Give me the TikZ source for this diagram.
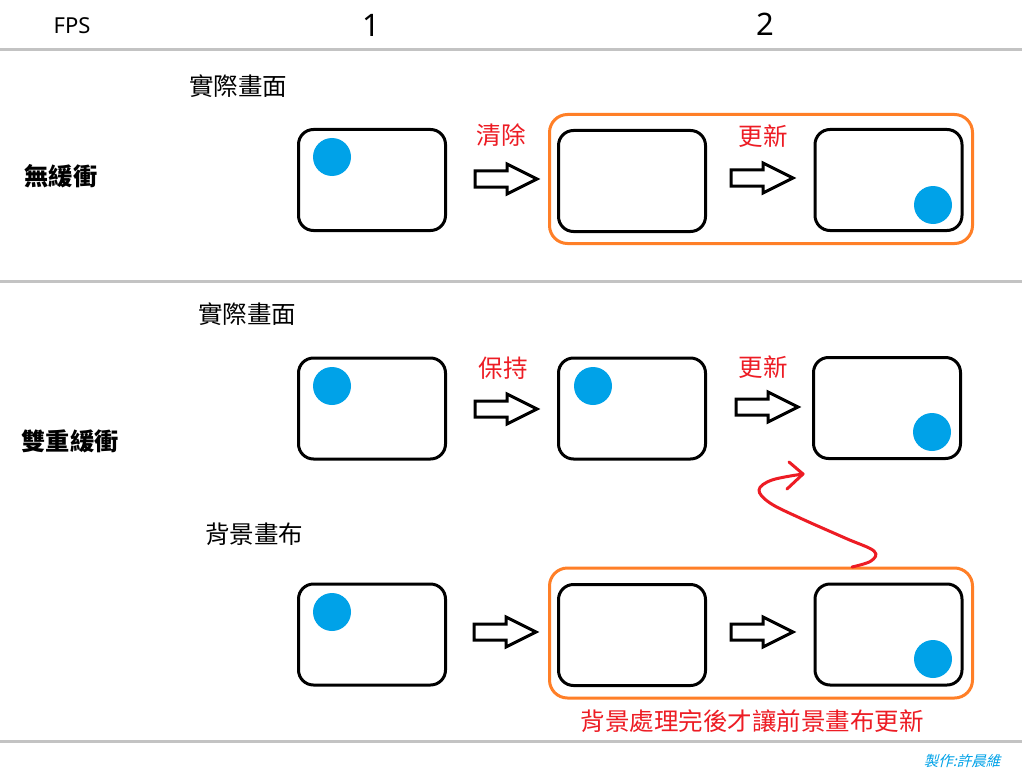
\documentclass[tikz,border=0pt]{standalone}
\usepackage{fontspec}
\setmainfont{Noto Sans}
\newfontfamily\cjk{Noto Sans CJK TC}
\newfontfamily\cjkslant[FakeSlant=0.25]{Noto Sans CJK TC}
\definecolor{sepgray}{RGB}{195,195,195}
\definecolor{grporange}{RGB}{255,127,39}
\definecolor{dotblue}{RGB}{0,162,232}
\definecolor{notered}{RGB}{237,28,36}
\begin{document}
\begin{tikzpicture}[x=1pt,y=-1pt,
  screen/.style={draw=black, line width=3, rounded corners=15, minimum width=147, minimum height=101, inner sep=0},
  group/.style={draw=grporange, line width=3, rounded corners=18, inner sep=0},
  dot/.style={circle, fill=dotblue, minimum size=38, inner sep=0},
  sep/.style={draw=sepgray, line width=3},
  label/.style={font=\cjk\fontsize{24.5}{26}\selectfont, inner sep=0},
  rowlabel/.style={font=\cjk\bfseries\fontsize{24.2}{26}\selectfont, inner sep=0},
  note/.style={font=\cjk\fontsize{24.5}{26}\selectfont, text=notered, inner sep=0},
  blockarrow/.pic={\draw[line width=3, line join=miter] (0,-8) -- (32,-8) -- (32,-15) -- (62,0) -- (32,15) -- (32,8) -- (0,8) -- cycle;}
]
\useasboundingbox (0,0) rectangle (1024,778);
\fill[white] (0,0) rectangle (1024,778);

% header
\node[font=\fontsize{22}{24}\selectfont, inner sep=0] (fps) at (72,26) {FPS};
\node[font=\fontsize{31}{33}\selectfont, inner sep=0] (f1) at (371,25) {1};
\node[font=\fontsize{31}{33}\selectfont, inner sep=0] (f2) at (765,24) {2};

% separators
\coordinate (l1a) at (0,50); \coordinate (l1b) at (1022,50);
\coordinate (l2a) at (0,281); \coordinate (l2b) at (1022,281);
\coordinate (l3a) at (0,741); \coordinate (l3b) at (1022,741);
\draw[sep] (l1a) -- (l1b);
\draw[sep] (l2a) -- (l2b);
\draw[sep] (l3a) -- (l3b);

% row 1: no buffer
\node[label] (t1) at (238,86) {實際畫面};
\node[rowlabel] (r1) at (61,176) {無緩衝};
\node[group, minimum width=423, minimum height=129] (g1) at (761,179) {};
\node[screen] (a1) at (372,180) {};
\node[screen] (a2) at (632,181) {};
\node[screen] (a3) at (888.5,180) {};
\node[dot] (d1) at (332,157) {};
\node[dot] (d3) at (933,205) {};
\pic at (475,179) {blockarrow};
\pic at (731,178) {blockarrow};
\node[note] (n1) at (501,135) {清除};
\node[note] (n2) at (763,136) {更新};

% row 2: double buffer
\node[label] (t2) at (247,314) {實際畫面};
\node[rowlabel] (r2) at (70,441) {雙重緩衝};
\node[screen] (b1) at (372,408.5) {};
\node[screen] (b2) at (632,408.5) {};
\node[screen] (b3) at (887,408) {};
\node[dot] (e1) at (332,386) {};
\node[dot] (e2) at (593,386) {};
\node[dot] (e3) at (932,432) {};
\pic at (475,409) {blockarrow};
\pic at (736,407) {blockarrow};
\node[note] (n3) at (503,368) {保持};
\node[note] (n4) at (763,367) {更新};

% background canvas
\node[label] (t3) at (254,534) {背景畫布};
\node[group, minimum width=423, minimum height=130] (g2) at (761,633) {};
\node[screen] (c1) at (372,634.5) {};
\node[screen] (c2) at (632,635) {};
\node[screen] (c3) at (888.5,634.5) {};
\node[dot] (h1) at (332,612) {};
\node[dot] (h3) at (933,659) {};
\pic at (474,632) {blockarrow};
\pic at (731,632) {blockarrow};
\node[note] (n5) at (752,721) {背景處理完後才讓前景畫布更新};

% red squiggle
\coordinate (q0) at (852,567);
\coordinate (tip) at (803,474);
\coordinate (arm1) at (789,462);
\coordinate (arm2) at (787,489);
\draw[notered, line width=3, line cap=round, line join=round]
  plot[smooth, tension=0.6] coordinates {(q0) (871,561) (874,551) (845,538) (800,518) (770,503) (759,490) (772,480) (803,474)};
\draw[notered, line width=3, line cap=round, line join=round] (arm1) -- (tip) -- (arm2);

% credit
\node[font=\cjkslant\fontsize{14.5}{16}\selectfont, text=dotblue, inner sep=0] (cr) at (962,761) {製作:許晨維};
\end{tikzpicture}
\end{document}
